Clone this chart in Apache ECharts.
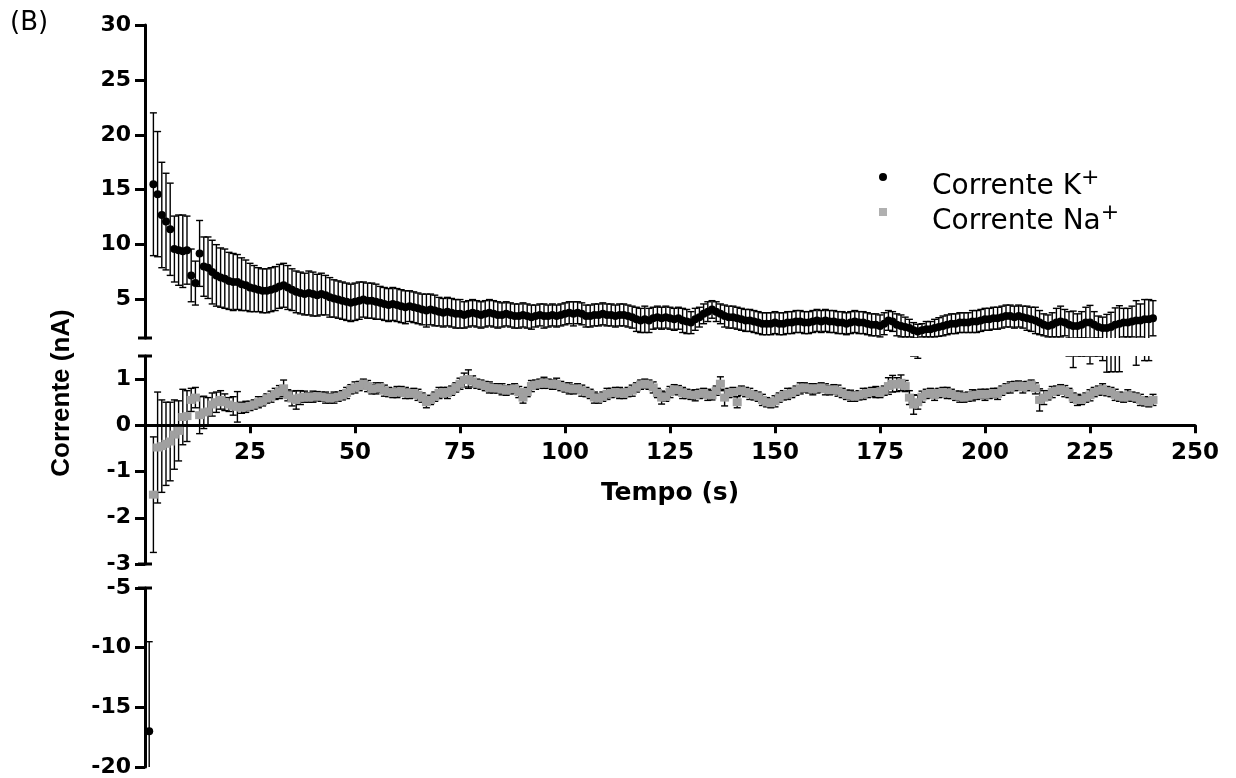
<!DOCTYPE html>
<html>
<head>
<meta charset="utf-8">
<script src="https://cdn.jsdelivr.net/npm/echarts@6/dist/echarts.min.js"></script>
<style>
  html, body { margin: 0; padding: 0; background: #fff; }
  #main { width: 1236px; height: 778px; }
</style>
</head>
<body>
<div id="main"></div>
<script>
// one reading per second, t = 1..240 s
const kMean = [
  -17, 15.5, 14.6, 12.7, 12.1, 11.4, 9.6, 9.5, 9.4, 9.5,
  7.2, 6.5, 9.2, 8.0, 7.9, 7.5, 7.2, 7.0, 6.9, 6.7,
  6.6, 6.6, 6.4, 6.3, 6.1, 6.0, 5.9, 5.8, 5.8, 5.9,
  6.0, 6.2, 6.3, 6.1, 5.9, 5.7, 5.6, 5.5, 5.6, 5.5,
  5.4, 5.5, 5.4, 5.2, 5.1, 5.0, 4.9, 4.8, 4.7, 4.8,
  4.9, 5.0, 4.9, 4.9, 4.8, 4.7, 4.6, 4.5, 4.6, 4.5,
  4.4, 4.3, 4.4, 4.3, 4.2, 4.1, 4.0, 4.1, 4.0, 3.9,
  3.8, 3.9, 3.8, 3.7, 3.7, 3.6, 3.7, 3.8, 3.7, 3.6,
  3.7, 3.8, 3.7, 3.6, 3.6, 3.7, 3.6, 3.5, 3.5, 3.6,
  3.5, 3.4, 3.5, 3.6, 3.5, 3.5, 3.6, 3.5, 3.6, 3.7,
  3.8, 3.7, 3.8, 3.7, 3.5, 3.5, 3.6, 3.6, 3.7, 3.6,
  3.6, 3.5, 3.6, 3.6, 3.5, 3.4, 3.2, 3.1, 3.2, 3.1,
  3.3, 3.4, 3.3, 3.4, 3.3, 3.2, 3.3, 3.1, 3.0, 2.9,
  3.2, 3.4, 3.7, 3.9, 4.1, 3.9, 3.7, 3.5, 3.4, 3.4,
  3.3, 3.2, 3.1, 3.1, 3.0, 2.9, 2.8, 2.8, 2.8, 2.9,
  2.8, 2.8, 2.9, 2.9, 3.0, 3.0, 2.9, 2.9, 3.0, 3.1,
  3.0, 3.1, 3.0, 3.0, 2.9, 2.9, 2.8, 2.9, 3.0, 2.9,
  2.9, 2.8, 2.7, 2.7, 2.6, 2.8, 3.1, 3.0, 2.7, 2.6,
  2.5, 2.4, 2.2, 2.1, 2.2, 2.3, 2.3, 2.4, 2.5, 2.6,
  2.7, 2.8, 2.8, 2.9, 2.9, 2.9, 3.0, 3.0, 3.1, 3.2,
  3.2, 3.3, 3.3, 3.4, 3.5, 3.5, 3.4, 3.5, 3.4, 3.3,
  3.2, 3.1, 2.9, 2.7, 2.6, 2.7, 2.9, 3.0, 2.9, 2.7,
  2.6, 2.6, 2.7, 2.9, 2.9, 2.7, 2.5, 2.4, 2.4, 2.5,
  2.7, 2.8, 2.9, 2.9, 3.0, 3.1, 3.1, 3.2, 3.2, 3.3
];
const kErr = [
  7.5, 6.5, 5.7, 4.8, 4.4, 4.2, 3.0, 3.2, 3.3, 3.1,
  2.4, 2.0, 3.0, 2.7, 2.8, 2.9, 2.8, 2.7, 2.7, 2.6,
  2.6, 2.5, 2.4, 2.3, 2.2, 2.1, 2.0, 2.0, 2.0, 2.0,
  2.0, 2.0, 2.0, 2.0, 1.9, 1.9, 1.9, 1.9, 2.0, 2.0,
  1.9, 1.9, 1.8, 1.8, 1.7, 1.7, 1.7, 1.7, 1.7, 1.7,
  1.7, 1.6, 1.6, 1.6, 1.6, 1.5, 1.5, 1.5, 1.5, 1.5,
  1.5, 1.5, 1.4, 1.4, 1.4, 1.4, 1.5, 1.4, 1.4, 1.3,
  1.3, 1.3, 1.3, 1.3, 1.3, 1.2, 1.2, 1.2, 1.2, 1.2,
  1.2, 1.2, 1.2, 1.2, 1.1, 1.1, 1.1, 1.1, 1.1, 1.1,
  1.1, 1.1, 1.0, 1.0, 1.1, 1.0, 1.0, 1.0, 1.0, 1.0,
  1.0, 1.1, 1.0, 1.0, 1.0, 1.0, 1.0, 1.0, 1.0, 1.0,
  1.0, 1.0, 1.0, 1.0, 1.0, 1.0, 1.1, 1.1, 1.2, 1.1,
  1.0, 1.0, 1.0, 1.0, 1.0, 1.0, 1.0, 1.1, 1.1, 1.0,
  1.0, 0.9, 0.9, 0.9, 0.8, 0.9, 0.9, 1.0, 1.0, 1.0,
  1.0, 1.0, 1.0, 1.0, 1.0, 1.0, 1.0, 1.0, 1.0, 1.0,
  1.0, 1.0, 1.0, 1.0, 1.0, 1.0, 1.0, 1.0, 1.0, 1.0,
  1.0, 1.0, 1.0, 1.0, 1.0, 1.0, 1.0, 1.0, 1.0, 1.0,
  1.0, 1.0, 1.0, 1.0, 1.0, 1.0, 0.9, 0.9, 1.0, 1.0,
  0.9, 0.8, 0.7, 0.65, 0.6, 0.7, 0.7, 0.8, 0.85, 0.9,
  0.9, 0.9, 0.9, 0.9, 0.9, 0.9, 1.0, 1.0, 1.0, 1.0,
  1.0, 1.0, 1.0, 1.0, 1.0, 1.0, 1.0, 1.0, 1.0, 1.1,
  1.1, 1.2, 1.1, 1.0, 1.0, 1.1, 1.3, 1.4, 1.2, 1.2,
  1.35, 1.1, 1.2, 1.4, 1.57, 1.2, 1.0, 1.0, 1.25, 1.34,
  1.54, 1.64, 1.3, 1.3, 1.4, 1.8, 1.5, 1.8, 1.8, 1.6
];
const naMean = [
  null, -1.5, -0.48, -0.45, -0.4, -0.35, -0.2, -0.12, 0.18, 0.2,
  0.55, 0.6, 0.22, 0.28, 0.3, 0.45, 0.5, 0.55, 0.5, 0.45,
  0.42, 0.4, 0.38, 0.4, 0.42, 0.45, 0.5, 0.52, 0.58, 0.62,
  0.68, 0.72, 0.8, 0.65, 0.58, 0.55, 0.6, 0.62, 0.6, 0.62,
  0.63, 0.62, 0.6, 0.58, 0.6, 0.62, 0.65, 0.7, 0.78, 0.82,
  0.85, 0.9, 0.85, 0.78, 0.8, 0.82, 0.75, 0.72, 0.7, 0.72,
  0.74, 0.7, 0.68, 0.7, 0.66, 0.6, 0.5, 0.55, 0.62, 0.7,
  0.72, 0.7, 0.75, 0.82, 0.9, 0.98, 1.0, 0.95, 0.9, 0.88,
  0.85, 0.82, 0.8, 0.8, 0.78, 0.75, 0.78, 0.8, 0.72, 0.6,
  0.72, 0.85, 0.88, 0.9, 0.92, 0.9, 0.88, 0.9, 0.85, 0.82,
  0.8, 0.78, 0.8, 0.75, 0.72, 0.68, 0.6, 0.58, 0.62, 0.68,
  0.7, 0.72, 0.7, 0.68, 0.72, 0.75, 0.82, 0.88, 0.9, 0.88,
  0.82, 0.7, 0.6, 0.62, 0.72, 0.78, 0.76, 0.7, 0.68, 0.66,
  0.65, 0.68, 0.7, 0.66, 0.65, 0.75, 0.9, 0.6, 0.7, 0.72,
  0.5, 0.75, 0.72, 0.68, 0.65, 0.62, 0.55, 0.5, 0.48, 0.52,
  0.6, 0.65, 0.68, 0.7, 0.75, 0.8, 0.82, 0.8, 0.78, 0.8,
  0.82, 0.78, 0.76, 0.78, 0.75, 0.7, 0.66, 0.64, 0.62, 0.65,
  0.68, 0.7, 0.72, 0.72, 0.7, 0.75, 0.85, 0.9, 0.88, 0.92,
  0.85, 0.6, 0.45, 0.5, 0.62, 0.68, 0.7, 0.66, 0.7, 0.72,
  0.7, 0.68, 0.64, 0.62, 0.6, 0.62, 0.65, 0.66, 0.68, 0.66,
  0.68, 0.7, 0.68, 0.75, 0.8, 0.82, 0.85, 0.86, 0.82, 0.85,
  0.88, 0.8, 0.55, 0.6, 0.65, 0.72, 0.75, 0.78, 0.74, 0.7,
  0.6, 0.55, 0.55, 0.6, 0.65, 0.72, 0.75, 0.78, 0.74, 0.72,
  0.66, 0.62, 0.6, 0.65, 0.62, 0.6, 0.55, 0.52, 0.5, 0.55
];
const naErr = [
  null, 1.25, 1.2, 1.0, 0.9, 0.85, 0.75, 0.65, 0.6, 0.55,
  0.25, 0.22, 0.4, 0.35, 0.3, 0.25, 0.22, 0.2, 0.18, 0.15,
  0.2, 0.33, 0.12, 0.12, 0.1, 0.1, 0.12, 0.1, 0.1, 0.12,
  0.12, 0.14, 0.18, 0.12, 0.16, 0.2, 0.15, 0.12, 0.1, 0.12,
  0.1, 0.1, 0.12, 0.1, 0.12, 0.1, 0.1, 0.12, 0.1, 0.12,
  0.1, 0.1, 0.12, 0.1, 0.12, 0.1, 0.12, 0.1, 0.1, 0.12,
  0.1, 0.12, 0.1, 0.1, 0.12, 0.1, 0.12, 0.1, 0.1, 0.12,
  0.1, 0.12, 0.1, 0.1, 0.12, 0.15, 0.2, 0.12, 0.1, 0.1,
  0.1, 0.12, 0.1, 0.1, 0.12, 0.1, 0.1, 0.1, 0.12, 0.12,
  0.1, 0.12, 0.1, 0.1, 0.12, 0.1, 0.1, 0.12, 0.1, 0.1,
  0.12, 0.1, 0.1, 0.12, 0.1, 0.1, 0.12, 0.1, 0.1, 0.12,
  0.1, 0.1, 0.12, 0.1, 0.1, 0.12, 0.1, 0.1, 0.1, 0.1,
  0.12, 0.1, 0.14, 0.1, 0.12, 0.1, 0.1, 0.12, 0.1, 0.1,
  0.12, 0.1, 0.1, 0.12, 0.1, 0.1, 0.15, 0.18, 0.1, 0.1,
  0.12, 0.1, 0.1, 0.12, 0.1, 0.1, 0.12, 0.1, 0.1, 0.12,
  0.1, 0.1, 0.12, 0.1, 0.1, 0.12, 0.1, 0.1, 0.12, 0.1,
  0.1, 0.12, 0.1, 0.1, 0.12, 0.1, 0.1, 0.12, 0.1, 0.1,
  0.12, 0.1, 0.1, 0.12, 0.1, 0.1, 0.18, 0.18, 0.15, 0.17,
  0.12, 0.15, 0.21, 0.15, 0.12, 0.1, 0.1, 0.12, 0.1, 0.1,
  0.12, 0.1, 0.1, 0.12, 0.1, 0.1, 0.12, 0.1, 0.1, 0.12,
  0.1, 0.1, 0.12, 0.1, 0.1, 0.12, 0.1, 0.1, 0.12, 0.1,
  0.1, 0.12, 0.24, 0.15, 0.1, 0.12, 0.1, 0.1, 0.12, 0.1,
  0.1, 0.12, 0.1, 0.1, 0.12, 0.1, 0.1, 0.12, 0.1, 0.1,
  0.12, 0.1, 0.1, 0.12, 0.1, 0.1, 0.12, 0.1, 0.1, 0.12
];
const xTicks = [25, 50, 75, 100, 125, 150, 175, 200, 225, 250];
const yTicksTop = [5, 10, 15, 20, 25, 30];
const yTicksMid = [-3, -2, -1, 0, 1];
const yTicksBot = [-20, -15, -10, -5];

const tempo = kMean.map((v, i) => i + 1);

const chart = echarts.init(document.getElementById('main'));

const grids = [
  { left: 145, width: 1050, top: 25, height: 313 },
  { left: 145, width: 1050, top: 356, height: 208 },
  { left: 145, width: 1050, top: 588, height: 179 }
];

const yRanges = [
  { min: 1.5, max: 30, ticks: yTicksTop, symbol: ['rect', 'none'] },
  { min: -3, max: 1.5, ticks: yTicksMid, symbol: ['rect', 'rect'] },
  { min: -20, max: -5, ticks: yTicksBot, symbol: ['none', 'rect'] }
];

const labelFont = { fontFamily: 'DejaVu Sans', fontWeight: 'bold', color: '#000' };

const yAxes = yRanges.map((r, i) => ({
  type: 'value',
  gridIndex: i,
  min: r.min,
  max: r.max,
  axisLine: {
    show: true,
    lineStyle: { color: '#000', width: 3 },
    symbol: r.symbol,
    symbolSize: [14, 3]
  },
  axisTick: { show: true, customValues: r.ticks, length: 10, lineStyle: { color: '#000', width: 3 } },
  axisLabel: Object.assign({ customValues: r.ticks, fontSize: 22, margin: 14 }, labelFont),
  splitLine: { show: false }
}));

// x axis drawn at y = 0 of the middle panel (offset up from its bottom edge)
const zeroOffset = -(208 * 3 / 4.5);

const xAxes = grids.map((g, i) => i === 1 ? {
  type: 'value',
  gridIndex: 1,
  position: 'bottom',
  offset: zeroOffset,
  min: 0,
  max: 250,
  axisLine: { show: true, onZero: false, lineStyle: { color: '#000', width: 3 } },
  axisTick: { show: true, customValues: xTicks, length: 8, lineStyle: { color: '#000', width: 3 } },
  axisLabel: Object.assign({ customValues: xTicks, fontSize: 23, margin: 16 }, labelFont),
  splitLine: { show: false },
  name: 'Tempo (s)',
  nameLocation: 'middle',
  nameGap: 56,
  nameTextStyle: Object.assign({ fontSize: 25 }, labelFont)
} : {
  type: 'value',
  gridIndex: i,
  min: 0,
  max: 250,
  show: false
});

function errorBars(mean, err, gi) {
  const data = [];
  tempo.forEach((t, i) => {
    if (mean[i] != null) data.push([t, mean[i] - err[i], mean[i] + err[i]]);
  });
  return {
    type: 'custom',
    xAxisIndex: gi,
    yAxisIndex: gi,
    clip: true,
    silent: true,
    z: 1,
    data: data,
    encode: { x: 0, y: [1, 2] },
    renderItem: function (params, api) {
      const lo = api.coord([api.value(0), api.value(1)]);
      const hi = api.coord([api.value(0), api.value(2)]);
      const cw = 3.5;
      const st = { stroke: '#000', lineWidth: 1.4 };
      return {
        type: 'group',
        children: [
          { type: 'line', shape: { x1: lo[0], y1: lo[1], x2: hi[0], y2: hi[1] }, style: st },
          { type: 'line', shape: { x1: hi[0] - cw, y1: hi[1], x2: hi[0] + cw, y2: hi[1] }, style: st },
          { type: 'line', shape: { x1: lo[0] - cw, y1: lo[1], x2: lo[0] + cw, y2: lo[1] }, style: st }
        ]
      };
    }
  };
}

function points(name, mean, gi, symbol, size, color) {
  const data = [];
  tempo.forEach((t, i) => {
    if (mean[i] != null) data.push([t, mean[i]]);
  });
  return {
    name: name,
    type: 'scatter',
    xAxisIndex: gi,
    yAxisIndex: gi,
    clip: true,
    z: 3,
    symbol: symbol,
    symbolSize: size,
    itemStyle: { color: color, opacity: 1 },
    data: data
  };
}

const series = [];
grids.forEach((g, gi) => {
  series.push(errorBars(kMean, kErr, gi));
  series.push(errorBars(naMean, naErr, gi));
  series.push(points('Corrente K+', kMean, gi, 'circle', 8, '#000'));
  series.push(points('Corrente Na+', naMean, gi, 'rect', [9, 8], '#a0a0a0'));
});

const legendText = {
  fontFamily: 'DejaVu Sans',
  fontSize: 28,
  lineHeight: 40,
  color: '#000',
  padding: [20, 0, 0, 40],
  rich: { sup: { fontFamily: 'DejaVu Sans', fontSize: 22, lineHeight: 20, verticalAlign: 'top', color: '#000' } }
};
const supFormatter = name => name.replace('+', '{sup|+}');

const option = {
  animation: false,
  backgroundColor: '#fff',
  grid: grids,
  xAxis: xAxes,
  yAxis: yAxes,
  legend: [
    {
      left: 879, top: 147, padding: 0, itemWidth: 8, itemHeight: 8,
      data: [{ name: 'Corrente K+', icon: 'circle', itemStyle: { color: '#000' } }],
      formatter: supFormatter, textStyle: legendText, selectedMode: false
    },
    {
      left: 879, top: 182, padding: 0, itemWidth: 8, itemHeight: 8,
      data: [{ name: 'Corrente Na+', icon: 'rect', itemStyle: { color: '#b0b0b0' } }],
      formatter: supFormatter, textStyle: legendText, selectedMode: false
    }
  ],
  graphic: [
    {
      type: 'text', left: 10, top: 10,
      style: { text: '(B)', font: '26px "DejaVu Sans"', fill: '#000' }
    },
    {
      type: 'text', x: 62, y: 393, rotation: Math.PI / 2,
      style: { text: 'Corrente (nA)', font: 'bold 26px "Liberation Sans"', fill: '#000', align: 'center', verticalAlign: 'middle' }
    }
  ],
  series: series
};

chart.setOption(option);
</script>
</body>
</html>
